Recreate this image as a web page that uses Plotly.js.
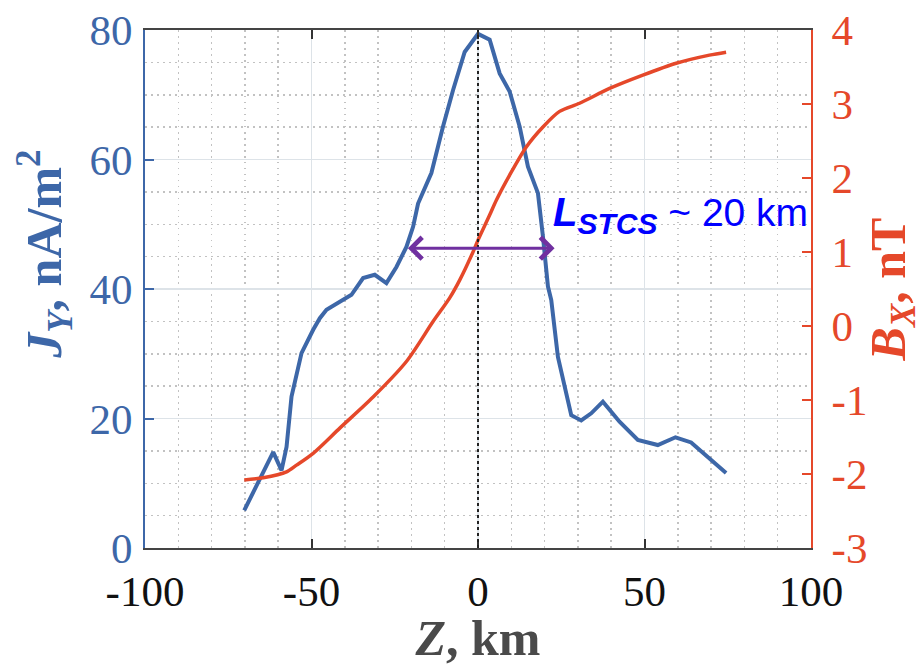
<!DOCTYPE html>
<html>
<head>
<meta charset="utf-8">
<script src="https://cdn.plot.ly/plotly-3.0.1.min.js"></script>
<style>html,body{margin:0;padding:0;background:#fff;}#chart{width:923px;height:666px;}</style>
</head>
<body>
<div id="chart"></div>
<script>
// J_Y current density (left axis)
const zJ = [-70.2, -61.5, -59, -57.5, -56, -53, -49.5, -47.5, -45.5, -39.5, -38, -34.5, -31, -27.5, -24.5, -21.5, -19.5, -18, -14, -10.5, -7.5, -4, 0, 3.5, 6.5, 9.5, 12.5, 15, 18, 19.5, 21, 22, 24, 28, 31, 34, 37.5, 42.5, 48, 54, 59.3, 64, 69, 74.5];
const jY = [5.8, 14.8, 12.0, 15.6, 23.4, 30.1, 33.7, 35.5, 36.8, 38.6, 39.1, 41.7, 42.2, 40.9, 43.4, 46.5, 49.6, 53.2, 57.9, 65.1, 70.7, 76.6, 79.4, 78.5, 73.3, 70.5, 65.1, 58.9, 54.8, 48.1, 40.4, 38.3, 29.5, 20.5, 19.7, 20.8, 22.6, 19.5, 16.7, 15.9, 17.1, 16.3, 14.0, 11.6];
// B_X magnetic field (right axis)
const zB = [-70.2, -64.5, -57.5, -54.5, -49.5, -41.5, -31.5, -21.5, -13.5, -8.5, -5.5, -1.5, 0, 3.5, 5.5, 9.5, 14.5, 19.5, 24.5, 30.5, 39.5, 49.5, 59.5, 69.5, 74.5];
const bX = [-2.08, -2.05, -1.97, -1.88, -1.72, -1.38, -0.96, -0.48, 0.06, 0.38, 0.62, 1.0, 1.16, 1.5, 1.7, 2.04, 2.42, 2.69, 2.90, 3.01, 3.21, 3.39, 3.55, 3.66, 3.70];
// Tick labels
const xTicks = [-100, -50, 0, 50, 100];
const xTickText = ['-100', '-50', '0', '50', '100'];
const yTicks = [0, 20, 40, 60, 80];
const yTickText = ['0', '20', '40', '60', '80'];
const y2Ticks = [-3, -2, -1, 0, 1, 2, 3, 4];
const y2TickText = ['-3', '-2', '-1', '0', '1', '2', '3', '4'];
// Width arrow (L_STCS)
const arrowZ = [-21.5, 23];
const arrowJ = 46.3;
const centerZ = 0;

const blue = '#3d67a8';
const red = '#e5482a';
const serif = '"Liberation Serif", "Times New Roman", serif';

const traces = [
  {x: zJ, y: jY, type: 'scatter', mode: 'lines', yaxis: 'y', line: {color: blue, width: 4}, showlegend: false, hoverinfo: 'skip'},
  {x: zB, y: bX, type: 'scatter', mode: 'lines', yaxis: 'y2', line: {color: red, width: 3.5, shape: 'spline', smoothing: 0.8}, showlegend: false, hoverinfo: 'skip'}
];

const dotGrid = {showgrid: true, griddash: '1.5px,4.5px', gridcolor: '#c2c2c2', gridwidth: 1.5};

const layout = {
  width: 923, height: 666,
  margin: {l: 145, r: 112, t: 30, b: 118},
  paper_bgcolor: '#fff', plot_bgcolor: '#fff',
  showlegend: false,
  xaxis: {
    range: [-100, 100], tickvals: xTicks, ticktext: xTickText,
    ticks: 'inside', ticklen: 9, tickwidth: 2, tickcolor: '#333',
    showline: true, linecolor: '#444', linewidth: 2, mirror: 'ticks',
    showgrid: true, gridcolor: '#dde3e8', gridwidth: 1.5, zeroline: false,
    minor: Object.assign({dtick: 10, tick0: 0}, dotGrid),
    tickfont: {family: serif, size: 43, color: '#111'},
    ticklabelstandoff: 4,
    title: {text: '<b><i>Z</i>, km</b>', font: {family: serif, size: 50, color: '#4a4a4a'}, standoff: 0}
  },
  yaxis: {
    range: [0, 80], tickvals: yTicks, ticktext: yTickText,
    ticks: 'inside', ticklen: 9, tickwidth: 2, tickcolor: blue,
    showline: true, linecolor: blue, linewidth: 2,
    showgrid: true, gridcolor: '#dde3e8', gridwidth: 1.5, zeroline: false,
    minor: Object.assign({dtick: 5, tick0: 0}, dotGrid),
    tickfont: {family: serif, size: 43, color: blue},
    ticklabelstandoff: 2
  },
  yaxis2: {
    overlaying: 'y', side: 'right', anchor: 'x',
    range: [-3, 4], tickvals: y2Ticks, ticktext: y2TickText,
    ticks: 'inside', ticklen: 9, tickwidth: 2, tickcolor: red,
    showline: true, linecolor: red, linewidth: 2,
    showgrid: false, zeroline: false,
    tickfont: {family: serif, size: 43, color: red},
    ticklabelstandoff: 10,
    title: {text: '<b><i>B<sub>X</sub></i>, nT</b>', font: {family: serif, size: 50, color: red}, standoff: 4}
  },
  shapes: [
    {type: 'line', xref: 'x', yref: 'paper', x0: centerZ, x1: centerZ, y0: 0, y1: 1, line: {color: '#222', width: 2, dash: 'dot'}, layer: 'above'}
  ],
  annotations: [
    {xref: 'paper', yref: 'paper', x: 0, y: 0.566, xshift: -100, xanchor: 'center', yanchor: 'middle', textangle: -90, showarrow: false,
     text: '<b><i>J<sub>Y</sub></i>, nA/m<sup>2</sup></b>', font: {family: serif, size: 50, color: blue}},
    {xref: 'x', yref: 'y', axref: 'x', ayref: 'y', x: arrowZ[1], y: arrowJ, ax: arrowZ[0], ay: arrowJ,
     text: '', showarrow: true, arrowside: 'end+start', arrowhead: 4, startarrowhead: 4, arrowsize: 1.4, startarrowsize: 1.4, arrowwidth: 3, arrowcolor: '#7030a0'},
    {xref: 'x', yref: 'y', x: 22, y: 51.5, xanchor: 'left', yanchor: 'middle', showarrow: false,
     text: '<b><i><span style="font-size:40px">L</span></i></b><sub><b><i><span style="font-size:30px">STCS</span></i></b></sub><span style="font-size:39px"> ~ 20 km</span>',
     font: {family: '"Liberation Sans", Arial, sans-serif', size: 38, color: '#0000ff'}}
  ]
};

Plotly.newPlot('chart', traces, layout, {displayModeBar: false, staticPlot: true});
</script>
</body>
</html>
